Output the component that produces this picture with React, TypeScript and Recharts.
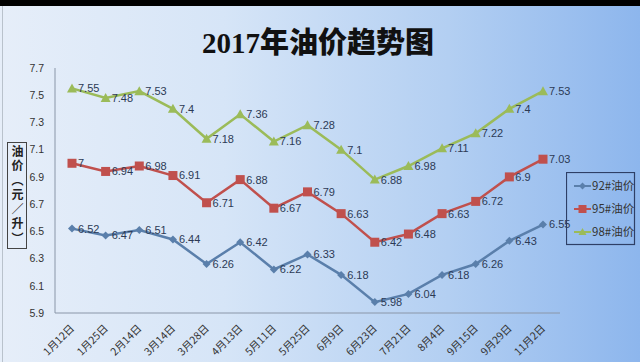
import React from 'react';
import { LineChart, Line, XAxis, YAxis, LabelList, Legend } from 'recharts';

const categories = ['1月12日', '1月25日', '2月14日', '3月14日', '3月28日', '4月13日', '5月11日', '5月25日', '6月9日', '6月23日', '7月21日', '8月4日', '9月15日', '9月29日', '11月2日'];
const price92 = [6.52, 6.47, 6.51, 6.44, 6.26, 6.42, 6.22, 6.33, 6.18, 5.98, 6.04, 6.18, 6.26, 6.43, 6.55];
const price95 = [7, 6.94, 6.98, 6.91, 6.71, 6.88, 6.67, 6.79, 6.63, 6.42, 6.48, 6.63, 6.72, 6.9, 7.03];
const price98 = [7.55, 7.48, 7.53, 7.4, 7.18, 7.36, 7.16, 7.28, 7.1, 6.88, 6.98, 7.11, 7.22, 7.4, 7.53];
const yTicks = [5.9, 6.1, 6.3, 6.5, 6.7, 6.9, 7.1, 7.3, 7.5, 7.7];
const seriesNames = ['92#油价', '95#油价', '98#油价'];
const yLabel = '油价（元／升）';

const data = categories.map((c, i) => ({ date: c, p92: price92[i], p95: price95[i], p98: price98[i] }));

const C92 = '#5a7fab';
const C95 = '#c0504d';
const C98 = '#9bbb59';
const NUM_FONT = '"Liberation Sans", Arial, sans-serif';

const Diamond = (props: any) => {
  const { cx, cy, fill } = props;
  if (cx == null || cy == null) return null;
  return <polygon points={`${cx},${cy - 4} ${cx + 4},${cy} ${cx},${cy + 4} ${cx - 4},${cy}`} fill={fill} />;
};
const Square = (props: any) => {
  const { cx, cy, fill } = props;
  if (cx == null || cy == null) return null;
  return <rect x={cx - 4.5} y={cy - 4.5} width={9} height={9} fill={fill} />;
};
const Triangle = (props: any) => {
  const { cx, cy, fill } = props;
  if (cx == null || cy == null) return null;
  return <polygon points={`${cx},${cy - 5} ${cx + 5},${cy + 4} ${cx - 5},${cy + 4}`} fill={fill} />;
};

const XTick = (props: any) => {
  const { x, y, payload } = props;
  return (
    <g transform={`translate(${x + 3},${y + 8})`}>
      <text x={0} y={0} textAnchor="end" transform="rotate(-45)" fontSize={10.5} fill="#333" fontFamily='"Noto Sans CJK SC", sans-serif'>
        {payload.value}
      </text>
    </g>
  );
};

const LegendContent = () => {
  const items = [
    { name: seriesNames[0], color: C92, shape: 'd' },
    { name: seriesNames[1], color: C95, shape: 's' },
    { name: seriesNames[2], color: C98, shape: 't' },
  ];
  return (
    <svg width={70} height={74} style={{ display: 'block' }}>
      <rect x={0.5} y={0.5} width={68} height={72} fill="none" stroke="#2e3f66" strokeWidth={1.2} />
      {items.map((it, i) => {
        const cy = 14 + i * 23;
        return (
          <g key={it.name}>
            <line x1={8} y1={cy} x2={25} y2={cy} stroke={it.color} strokeWidth={2} />
            {it.shape === 'd' && <polygon points={`16.5,${cy - 3.5} 20,${cy} 16.5,${cy + 3.5} 13,${cy}`} fill={it.color} />}
            {it.shape === 's' && <rect x={12.5} y={cy - 4} width={8} height={8} fill={it.color} />}
            {it.shape === 't' && <polygon points={`16.5,${cy - 4} 20.5,${cy + 3} 12.5,${cy + 3}`} fill={it.color} />}
            <text x={26} y={cy + 4} fontSize={11.5} fill="#333" fontFamily='"Noto Sans CJK SC", sans-serif'>
              {it.name}
            </text>
          </g>
        );
      })}
    </svg>
  );
};

export default function App() {
  return (
    <div
      style={{
        position: 'absolute',
        left: 0,
        top: 0,
        width: 640,
        height: 362,
        overflow: 'hidden',
        background: 'linear-gradient(to right, #e6eef9 0%, #d6e5f7 35%, #b3cff2 70%, #8db6ed 100%)',
      }}
    >
      <div style={{ position: 'absolute', left: 0, top: 0, width: 640, height: 6, background: '#000' }} />
      <div style={{ position: 'absolute', left: 2, top: 6, width: 1, height: 356, background: '#b9c2cc' }} />
      <div
        style={{
          position: 'absolute',
          left: 0,
          top: 24,
          width: 636,
          textAlign: 'center',
          fontSize: 29,
          fontWeight: 900,
          color: '#111',
          fontFamily: '"Liberation Serif", "Noto Sans CJK SC", serif',
          lineHeight: '38px',
        }}
      >
        2017年油价趋势图
      </div>
      <div
        style={{
          position: 'absolute',
          left: 7,
          top: 142,
          width: 20,
          height: 107,
          border: '1px solid #444',
          boxSizing: 'border-box',
          display: 'flex',
          justifyContent: 'center',
          alignItems: 'center',
        }}
      >
        <div
          style={{
            writingMode: 'vertical-rl',
            fontFamily: '"Noto Sans CJK SC", sans-serif',
            fontWeight: 700,
            fontSize: 12,
            letterSpacing: 2.5,
            lineHeight: '16px',
            color: '#222',
          }}
        >
          {yLabel}
        </div>
      </div>
      <LineChart width={640} height={362} data={data} margin={{ top: 68, right: 80, bottom: 4, left: 0 }} style={{ position: 'absolute', left: 0, top: 0 }}>
        <XAxis
          dataKey="date"
          height={45}
          tickLine={false}
          axisLine={{ stroke: '#8a96a8' }}
          tick={<XTick />}
          interval={0}
          padding={{ left: 17, right: 17 }}
        />
        <YAxis
          width={55}
          domain={[5.9, 7.7]}
          ticks={yTicks}
          tickLine={false}
          axisLine={{ stroke: '#8a96a8' }}
          tickMargin={5}
          tick={{ fontSize: 10.5, fill: '#333', fontFamily: NUM_FONT }}
          tickFormatter={(v: number) => String(v)}
        />
        <Legend
          layout="horizontal"
          verticalAlign="middle"
          align="center"
          content={<LegendContent />}
          wrapperStyle={{ left: 566, top: 172, width: 70, height: 74 }}
        />
        <Line type="linear" dataKey="p92" name={seriesNames[0]} stroke={C92} strokeWidth={2.5} dot={<Diamond fill={C92} />} isAnimationActive={false}>
          <LabelList dataKey="p92" position="right" offset={6} fontSize={11} fill="#2c3a55" fontFamily={NUM_FONT} />
        </Line>
        <Line type="linear" dataKey="p95" name={seriesNames[1]} stroke={C95} strokeWidth={2.5} dot={<Square fill={C95} />} isAnimationActive={false}>
          <LabelList dataKey="p95" position="right" offset={6} fontSize={11} fill="#2c3a55" fontFamily={NUM_FONT} />
        </Line>
        <Line type="linear" dataKey="p98" name={seriesNames[2]} stroke={C98} strokeWidth={2.5} dot={<Triangle fill={C98} />} isAnimationActive={false}>
          <LabelList dataKey="p98" position="right" offset={6} fontSize={11} fill="#2c3a55" fontFamily={NUM_FONT} />
        </Line>
      </LineChart>
    </div>
  );
}
